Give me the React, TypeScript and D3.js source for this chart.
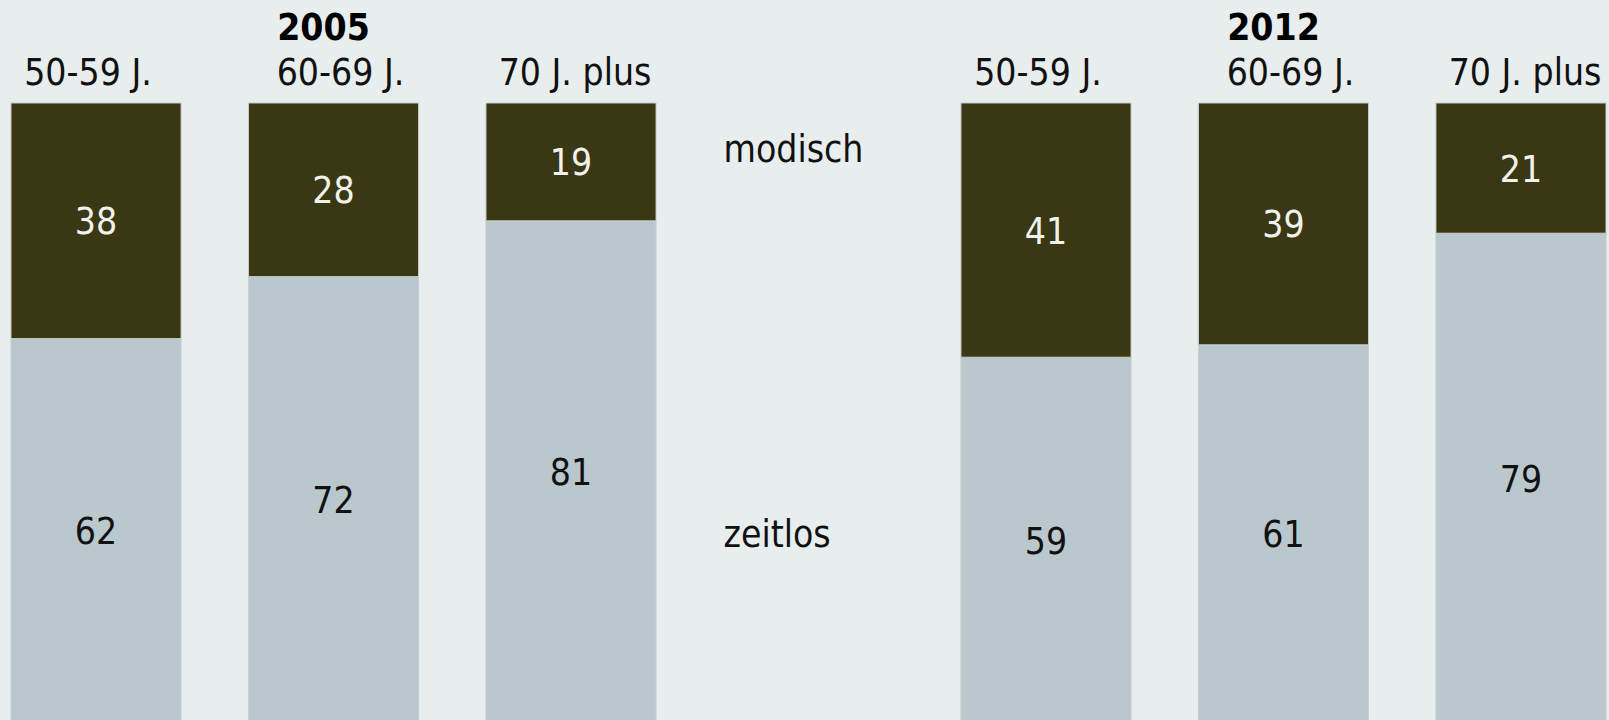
import React, { useEffect, useRef } from 'react';
import * as d3 from 'd3';

const YEARS = ["2005", "2012"];
const AGE_GROUPS = ["50-59 J.", "60-69 J.", "70 J. plus"];
const SERIES = ["zeitlos", "modisch"];

const modisch2005 = [38, 28, 19];
const zeitlos2005 = [62, 72, 81];
const modisch2012 = [41, 39, 21];
const zeitlos2012 = [59, 61, 79];

// label nudges
const HEAD_NUDGE = [-8, 7, 4];

const WIDTH = 1609;
const HEIGHT = 720;
const FONT = "'DejaVu Sans Condensed', 'DejaVu Sans', Tahoma, sans-serif";

const App = () => {
    const svgRef = useRef<SVGSVGElement>(null);

    useEffect(() => {
        document.body.style.margin = '0';

        const rows = [
            { year: YEARS[0], modisch: modisch2005, zeitlos: zeitlos2005 },
            { year: YEARS[1], modisch: modisch2012, zeitlos: zeitlos2012 },
        ];

        // 7 slots: 3 bars, legend slot, 3 bars
        const slots = [
            ...AGE_GROUPS.map(a => YEARS[0] + '|' + a),
            'legend',
            ...AGE_GROUPS.map(a => YEARS[1] + '|' + a),
        ];

        const x = d3.scaleBand()
            .domain(slots)
            .range([11, 1606])
            .paddingInner(0.284)
            .paddingOuter(0);

        const y = d3.scaleLinear()
            .domain([0, 100])
            .range([723, 103]);

        const color = d3.scaleOrdinal<string>()
            .domain(SERIES)
            .range(['#bac8cd', '#3a3814']);

        const svg = d3.select(svgRef.current);
        svg.selectAll('*').remove();
        svg.attr('width', WIDTH).attr('height', HEIGHT)
            .style('display', 'block')
            .style('font-family', FONT);

        svg.append('rect')
            .attr('width', WIDTH).attr('height', HEIGHT)
            .attr('fill', '#e8edee');

        const data: any[] = [];
        rows.forEach(r => {
            AGE_GROUPS.forEach((a, i) => {
                data.push({ key: r.year + '|' + a, age: a, idx: i, zeitlos: r.zeitlos[i], modisch: r.modisch[i] });
            });
        });

        const stacked = d3.stack().keys(SERIES)(data);

        const bars = svg.append('g').classed('bars', true);
        stacked.forEach(layer => {
            bars.append('g')
                .selectAll('rect')
                .data(layer)
                .enter().append('rect')
                .attr('x', (d: any) => x(d.data.key)!)
                .attr('width', x.bandwidth())
                .attr('y', (d: any) => y(d[1]))
                .attr('height', (d: any) => y(d[0]) - y(d[1]))
                .attr('fill', color(layer.key))
                .attr('stroke', layer.key === 'modisch' ? '#c6cbc9' : '#c3cfd3')
                .attr('stroke-width', 1);

            bars.append('g')
                .selectAll('text')
                .data(layer)
                .enter().append('text')
                .attr('x', (d: any) => x(d.data.key)! + x.bandwidth() / 2)
                .attr('y', (d: any) => (y(d[0]) + y(d[1])) / 2 + 13.5)
                .attr('text-anchor', 'middle')
                .attr('font-size', 37)
                .attr('fill', layer.key === 'modisch' ? '#f2f2ec' : '#111')
                .text((d: any) => d.data[layer.key]);
        });

        // age group headers
        svg.append('g')
            .selectAll('text')
            .data(data)
            .enter().append('text')
            .attr('x', (d: any) => x(d.key)! + x.bandwidth() / 2 + HEAD_NUDGE[d.idx])
            .attr('y', 85)
            .attr('text-anchor', 'middle')
            .attr('font-size', 37)
            .attr('fill', '#111')
            .text((d: any) => d.age);

        // year titles above middle bar
        svg.append('g')
            .selectAll('text')
            .data(YEARS)
            .enter().append('text')
            .attr('x', d => x(d + '|' + AGE_GROUPS[1])! + x.bandwidth() / 2 - 10)
            .attr('y', 40)
            .attr('text-anchor', 'middle')
            .attr('font-size', 37)
            .attr('font-weight', 'bold')
            .attr('fill', '#000')
            .text(d => d);

        // legend in the empty slot
        const legendY: Record<string, number> = { modisch: 162, zeitlos: 547 };
        svg.append('g')
            .selectAll('text')
            .data(SERIES)
            .enter().append('text')
            .attr('x', x('legend')!)
            .attr('y', d => legendY[d])
            .attr('font-size', 37)
            .attr('fill', '#111')
            .text(d => d);
    }, []);

    return <svg ref={svgRef} width={WIDTH} height={HEIGHT} />;
};

export default App;
